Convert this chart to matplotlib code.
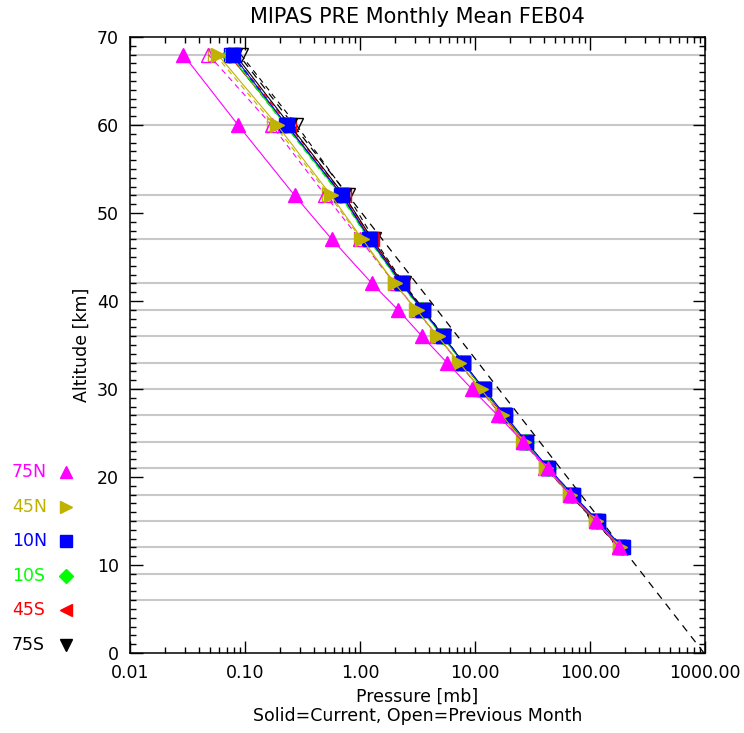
import numpy as np
import matplotlib
matplotlib.use("Agg")
from matplotlib import pyplot as plt
from matplotlib.ticker import FixedLocator, LogLocator, MultipleLocator, FormatStrFormatter, NullFormatter

plt.rcParams['font.family'] = ['DejaVu Sans']

# tangent altitudes (km)
alt = [68, 60, 52, 47, 42, 39, 36, 33, 30, 27, 24, 21, 18, 15, 12]

# current month pressures (mb)
p75N = [0.029, 0.087, 0.27, 0.57, 1.27, 2.14, 3.46, 5.7, 9.4, 15.8, 26.1, 43.0, 67.0, 113.0, 179.0]
p45N = [0.058, 0.19, 0.56, 1.05, 2.0, 3.1, 4.75, 7.3, 11.2, 17.2, 26.5, 41.5, 67.5, 112.0, 182.0]
p10N = [0.078, 0.23, 0.70, 1.22, 2.3, 3.5, 5.3, 7.9, 12.0, 18.3, 28.0, 43.5, 71.0, 117.0, 192.0]
p10S = [0.074, 0.225, 0.68, 1.2, 2.25, 3.45, 5.2, 7.8, 11.8, 18.1, 27.6, 43.0, 70.0, 116.0, 190.0]
p45S = [0.072, 0.23, 0.70, 1.25, 2.3, 3.5, 5.25, 7.8, 11.7, 17.8, 27.0, 42.0, 68.5, 113.0, 185.0]
p75S = [0.082, 0.245, 0.73, 1.28, 2.35, 3.55, 5.3, 7.85, 11.8, 17.8, 27.0, 41.5, 67.0, 110.0, 180.0]

# previous month pressures (mb)
q75N = [0.048, 0.17, 0.50, 1.0, 2.0, 3.1, 4.7, 7.2, 11.0, 16.8, 26.0, 41.0, 67.0, 112.0, 180.0]
q45N = [0.055, 0.18, 0.54, 1.03, 2.0, 3.05, 4.7, 7.2, 11.1, 17.0, 26.3, 41.5, 67.5, 112.0, 182.0]
q10N = [0.076, 0.225, 0.69, 1.2, 2.28, 3.47, 5.25, 7.85, 11.9, 18.2, 27.8, 43.3, 70.5, 116.5, 191.0]
q10S = [0.073, 0.222, 0.67, 1.19, 2.24, 3.43, 5.18, 7.75, 11.75, 18.0, 27.5, 42.8, 69.8, 115.5, 189.0]
q45S = [0.078, 0.24, 0.72, 1.27, 2.33, 3.52, 5.27, 7.82, 11.75, 17.9, 27.1, 42.2, 68.8, 113.5, 186.0]
q75S = [0.092, 0.28, 0.78, 1.33, 2.4, 3.6, 5.35, 7.9, 11.8, 17.8, 26.9, 41.3, 66.5, 109.0, 178.0]

# reference profile (dashed black)
ref_alt = [0, 68]
ref_pres = [980.0, 0.088]

regions = ['75N', '45N', '10N', '10S', '45S', '75S']
colors = ['#ff00ff', '#bfb200', '#0000ff', '#00ff00', '#ff0000', '#000000']
markers = ['^', '>', 's', 'D', '<', 'v']
current = [p75N, p45N, p10N, p10S, p45S, p75S]
previous = [q75N, q45N, q10N, q10S, q45S, q75S]

grid_alt = [68, 60, 52, 47, 42, 39, 36, 33, 30, 27, 24, 21, 18, 15, 12, 9, 6]

fig = plt.figure(figsize=(7.44, 7.33), dpi=100)
ax = fig.add_axes([130/744, 80/733, 575/744, 616/733])

for g in grid_alt:
    ax.axhline(g, color='#c8c8c8', lw=1.5, zorder=0)

ax.plot(ref_pres, ref_alt, color='black', lw=0.9, dashes=(6, 5), zorder=1)

# draw southern first so 75N ends on top
for i in reversed(range(len(regions))):
    c = colors[i]
    ms = 8 if markers[i] == 'D' else 9.5
    ax.plot(previous[i], alt, color=c, lw=0.8, dashes=(5, 4), marker=markers[i],
            ms=ms, mfc='none', mec=c, mew=1.0, zorder=2)
for i in reversed(range(len(regions))):
    c = colors[i]
    ms = 8 if markers[i] == 'D' else 9.5
    ax.plot(current[i], alt, color=c, lw=0.8, marker=markers[i],
            ms=ms, mfc=c, mec=c, zorder=3)

ax.set_xscale('log')
ax.set_xlim(0.01, 1000)
ax.set_ylim(0, 70)
ax.xaxis.set_major_locator(FixedLocator([0.01, 0.1, 1, 10, 100, 1000]))
ax.xaxis.set_major_formatter(FormatStrFormatter('%.2f'))
ax.xaxis.set_minor_locator(LogLocator(base=10, subs=np.arange(2, 10)))
ax.xaxis.set_minor_formatter(NullFormatter())
ax.yaxis.set_major_locator(MultipleLocator(10))
ax.yaxis.set_minor_locator(MultipleLocator(1))
ax.tick_params(which='both', direction='in', top=True, right=True, labelsize=12.5, width=1)
ax.tick_params(which='major', length=9, pad=8)
ax.tick_params(which='minor', length=4.5)
for s in ax.spines.values():
    s.set_linewidth(1.1)

ax.set_title('MIPAS PRE Monthly Mean FEB04', fontsize=15, pad=10)
ax.set_ylabel('Altitude [km]', fontsize=12.5, labelpad=4)
ax.set_xlabel('Pressure [mb]\nSolid=Current, Open=Previous Month', fontsize=12.5,
              labelpad=4, linespacing=1.1)

# region key on the left
for i, r in enumerate(regions):
    y = 1 - (472 + i*34.6)/733
    fig.text(12/744, y, r, color=colors[i], fontsize=12.5, va='center', ha='left')
    ms = 7 if markers[i] == 'D' else 9
    ax.plot([66/744], [y], marker=markers[i], color=colors[i], ms=ms,
            transform=fig.transFigure, clip_on=False)

fig.savefig('out.png', dpi=100)
